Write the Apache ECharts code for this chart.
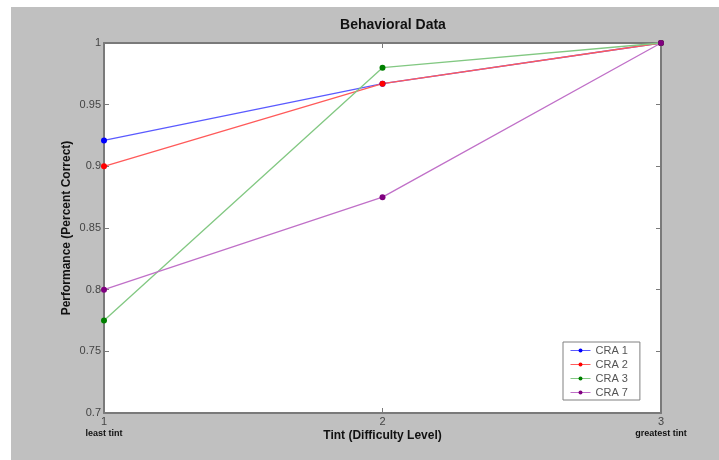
<!DOCTYPE html>
<html>
<head>
<meta charset="utf-8">
<script src="https://cdn.jsdelivr.net/npm/echarts@6/dist/echarts.min.js"></script>
<style>
html,body{margin:0;padding:0;background:#fff;}
#c{width:719px;height:460px;}
</style>
</head>
<body>
<div id="c"></div>
<script>
var xValues = [1, 2, 3];
var xTickLabels = {1: 'least tint', 2: '', 3: 'greatest tint'};
var seriesNames = ['CRA 1', 'CRA 2', 'CRA 3', 'CRA 7'];
var cra1 = [0.921, 0.967, 1.0];
var cra2 = [0.900, 0.967, 1.0];
var cra3 = [0.775, 0.980, 1.0];
var cra7 = [0.800, 0.875, 1.0];
var yTicks = [0.7, 0.75, 0.8, 0.85, 0.9, 0.95, 1];

var markerColors = ['#0000ff', '#ff0000', '#008000', '#800080'];
var lineColors = ['#5a5aff', '#ff5a5a', '#82c882', '#c070c8'];
var allValues = [cra1, cra2, cra3, cra7];

function pairs(vals) {
  return xValues.map(function (x, i) { return [x, vals[i]]; });
}

var chart = echarts.init(document.getElementById('c'), null, {renderer: 'canvas'});
var FONT = '"Liberation Sans", Arial, sans-serif';
var axisGray = '#7a7a7a';

var series = seriesNames.map(function (name, i) {
  return {
    name: name,
    type: 'line',
    xAxisIndex: 0,
    yAxisIndex: 0,
    data: pairs(allValues[i]),
    symbol: 'circle',
    symbolSize: 6,
    showSymbol: true,
    clip: false,
    itemStyle: {color: markerColors[i]},
    lineStyle: {color: lineColors[i], width: 1.3},
    emphasis: {disabled: true},
    animation: false
  };
});

var option = {
  animation: false,
  backgroundColor: '#ffffff',
  graphic: [
    {type: 'rect', shape: {x: 11, y: 7, width: 719, height: 460}, style: {fill: '#c0c0c0'}, z: -10, silent: true}
  ],
  title: {
    text: 'Behavioral Data',
    left: 388,
    top: 13,
    textAlign: 'center',
    textStyle: {fontFamily: FONT, fontSize: 14, fontWeight: 'bold', color: '#111'}
  },
  grid: {left: 104, right: 58, top: 43, bottom: 47, show: true, backgroundColor: '#ffffff', borderWidth: 0},
  legend: {
    data: seriesNames,
    orient: 'vertical',
    left: 563,
    top: 342,
    itemWidth: 20,
    itemHeight: 5,
    itemGap: 3,
    padding: [3, 12, 2, 7],
    backgroundColor: '#ffffff',
    borderColor: '#808080',
    borderWidth: 1,
    borderRadius: 0,
    lineStyle: {width: 1},
    textStyle: {fontFamily: FONT, fontSize: 11, color: '#555', padding: [0, 0, 0, 0]},
    selectedMode: false
  },
  xAxis: [
    {
      type: 'value', min: 1, max: 3, interval: 1, position: 'bottom',
      name: 'Tint (Difficulty Level)', nameLocation: 'middle', nameGap: 17, nameMoveOverlap: false,
      nameTextStyle: {fontFamily: FONT, fontSize: 12, fontWeight: 'bold', color: '#111'},
      axisLine: {show: true, onZero: false, lineStyle: {color: axisGray, width: 2}},
      axisTick: {show: true, inside: true, length: 5, lineStyle: {color: axisGray}},
      splitLine: {show: false},
      axisLabel: {
        margin: 3,
        fontFamily: FONT,
        formatter: function (v) {
          var sub = xTickLabels[v];
          return '{n|' + v + '}' + (sub ? '\n{s|' + sub + '}' : '');
        },
        rich: {
          n: {fontFamily: FONT, fontSize: 11, color: '#444', lineHeight: 12},
          s: {fontFamily: FONT, fontSize: 9, fontWeight: 'bold', color: '#111', lineHeight: 11}
        },
        verticalAlign: 'top'
      }
    },
    {
      type: 'value', min: 1, max: 3, interval: 1, position: 'top',
      axisLine: {show: true, onZero: false, lineStyle: {color: axisGray, width: 2}},
      axisTick: {show: true, inside: true, length: 5, lineStyle: {color: axisGray}},
      axisLabel: {show: false}, splitLine: {show: false}
    }
  ],
  yAxis: [
    {
      type: 'value', min: 0.7, max: 1, interval: 0.05, position: 'left',
      name: 'Performance (Percent Correct)', nameLocation: 'middle', nameGap: 31, nameRotate: 90, nameMoveOverlap: false,
      nameTextStyle: {fontFamily: FONT, fontSize: 12, fontWeight: 'bold', color: '#111'},
      axisLine: {show: true, onZero: false, lineStyle: {color: axisGray, width: 2}},
      axisTick: {show: true, inside: true, length: 5, lineStyle: {color: axisGray}},
      splitLine: {show: false},
      axisLabel: {
        margin: 3, fontFamily: FONT, fontSize: 11, color: '#444',
        formatter: function (v) {
          var r = Math.round(v * 100) / 100;
          return String(r);
        }
      }
    },
    {
      type: 'value', min: 0.7, max: 1, interval: 0.05, position: 'right',
      axisLine: {show: true, onZero: false, lineStyle: {color: axisGray, width: 2}},
      axisTick: {show: true, inside: true, length: 5, lineStyle: {color: axisGray}},
      axisLabel: {show: false}, splitLine: {show: false}
    }
  ],
  series: series
};
chart.setOption(option);
</script>
</body>
</html>
